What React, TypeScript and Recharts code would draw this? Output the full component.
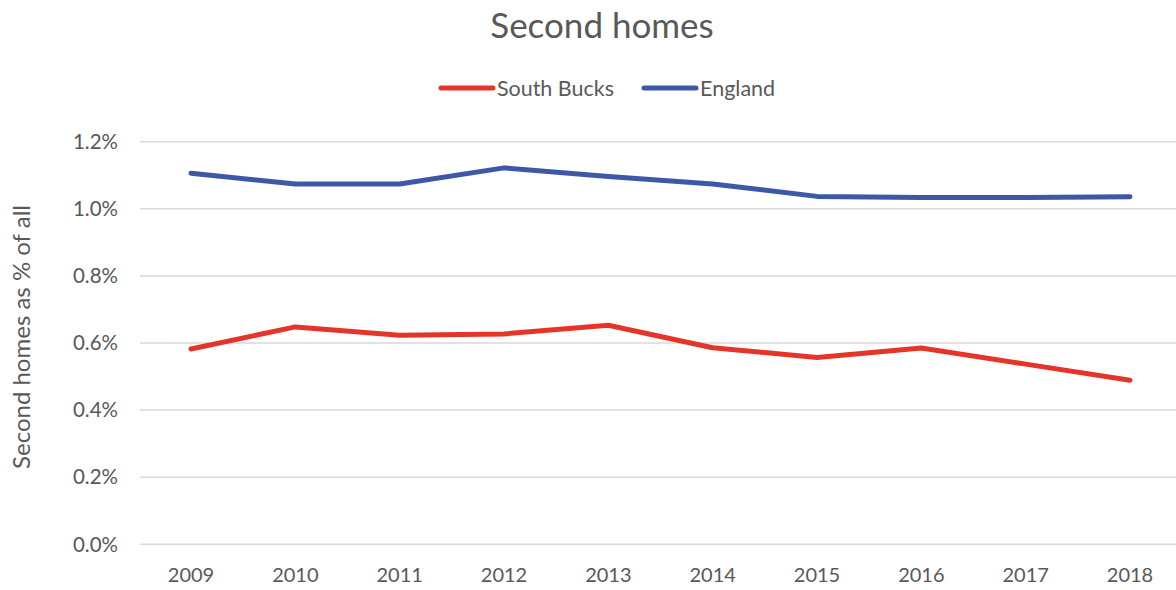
import React from "react";
import { LineChart, Line, XAxis, YAxis, CartesianGrid, Legend } from "recharts";

const years = ["2009", "2010", "2011", "2012", "2013", "2014", "2015", "2016", "2017", "2018"];
const southBucks = [0.582, 0.648, 0.623, 0.627, 0.653, 0.586, 0.557, 0.585, 0.537, 0.489];
const england = [1.106, 1.074, 1.074, 1.122, 1.096, 1.074, 1.037, 1.034, 1.034, 1.036];
const yTicks = [0, 0.2, 0.4, 0.6, 0.8, 1.0, 1.2];

const RED = "#E5352A";
const BLUE = "#3C58A7";
const TEXT = "#595959";
const FONT = "Lato, 'Open Sans', sans-serif";

const data = years.map((y, i) => ({ year: y, sb: southBucks[i], eng: england[i] }));

const renderLegend = () => (
  <div style={{ display: "flex", justifyContent: "center", alignItems: "center", fontFamily: FONT, fontSize: 21.5, color: TEXT }}>
    {[
      { name: "South Bucks", color: RED },
      { name: "England", color: BLUE },
    ].map((it, i) => (
      <div key={it.name} style={{ display: "flex", alignItems: "center", marginLeft: i === 0 ? 0 : 27 }}>
        <svg width={58} height={10} style={{ marginRight: 1 }}>
          <line x1={3} y1={5} x2={55} y2={5} stroke={it.color} strokeWidth={5} strokeLinecap="round" />
        </svg>
        <span>{it.name}</span>
      </div>
    ))}
  </div>
);

const YLabel = (props: any) => {
  const vb = props.viewBox || {};
  const cy = vb.y + vb.height / 2 - 6;
  return (
    <text x={20} y={cy} transform={`rotate(-90, 20, ${cy})`} textAnchor="middle" dominantBaseline="central" fill={TEXT} fontSize={24} fontFamily={FONT}>
      Second homes as % of all
    </text>
  );
};

export default function App() {
  return (
    <div style={{ position: "absolute", left: 0, top: 0, width: 1176, height: 590, overflow: "hidden", background: "#fff" }}>
      <div style={{ position: "absolute", left: 0, top: 3, width: 1204, textAlign: "center", fontFamily: FONT, fontSize: 35, color: TEXT }}>
        Second homes
      </div>
      <LineChart width={1182} height={590} data={data} margin={{ top: 141.7, right: 0, left: 0, bottom: 0 }}>
        <CartesianGrid horizontal vertical={false} stroke="#D9D9D9" strokeWidth={1.5} />
        <XAxis
          dataKey="year"
          height={45.7}
          padding={{ left: 51, right: 52 }}
          axisLine={false}
          tickLine={false}
          tickSize={0}
          tickMargin={23}
          tick={{ fill: TEXT, fontSize: 20, fontFamily: FONT }}
        />
        <YAxis
          width={140}
          domain={[0, 1.2]}
          ticks={yTicks}
          axisLine={false}
          tickLine={false}
          tickSize={0}
          tickMargin={22}
          tickFormatter={(v: number) => v.toFixed(1) + "%"}
          tick={{ fill: TEXT, fontSize: 20.5, fontFamily: FONT }}
          label={<YLabel />}
        />
        <Legend layout="horizontal" verticalAlign="middle" align="center" content={renderLegend} wrapperStyle={{ top: 75, left: 0, width: 1213 }} />
        <Line type="linear" dataKey="sb" name="South Bucks" stroke={RED} strokeWidth={5} dot={false} strokeLinecap="round" strokeLinejoin="round" isAnimationActive={false} />
        <Line type="linear" dataKey="eng" name="England" stroke={BLUE} strokeWidth={5} dot={false} strokeLinecap="round" strokeLinejoin="round" isAnimationActive={false} />
      </LineChart>
    </div>
  );
}
